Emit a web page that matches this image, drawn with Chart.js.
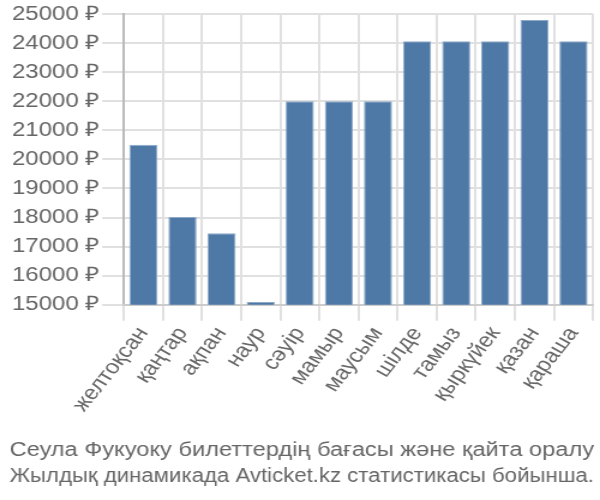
<!DOCTYPE html>
<html>
<head>
<meta charset="utf-8">
<script src="https://cdn.jsdelivr.net/npm/chart.js@4/dist/chart.umd.min.js"></script>
<style>
html,body{margin:0;padding:0;background:#fff;overflow:hidden;}
#wrap{width:600px;height:500px;overflow:hidden;}
#c{transform:scaleX(1.2);transform-origin:0 0;display:block;}
</style>
</head>
<body>
<div id="wrap"><canvas id="c" width="500" height="500" style="width:500px;height:500px"></canvas></div>
<script>
const categories = ["желтоқсан","қаңтар","ақпан","наур","сәуір","мамыр","маусым","шілде","тамыз","қыркүйек","қазан","қараша"];
const prices = [20500, 18020, 17460, 15100, 22000, 22000, 22000, 24060, 24060, 24060, 24790, 24060];
const yTicks = [15000,16000,17000,18000,19000,20000,21000,22000,23000,24000,25000];
const titleLines = ["Сеула Фукуоку билеттердің бағасы және қайта оралу","Жылдық динамикада Avticket.kz статистикасы бойынша."];

Chart.defaults.font.family = "'Liberation Sans', Arial, sans-serif";
new Chart(document.getElementById('c'), {
  type: 'bar',
  data: {
    labels: categories,
    datasets: [{
      data: prices,
      backgroundColor: 'rgb(78,121,167)',
      borderColor: 'rgba(140,170,200,1)',
      borderWidth: 1,
      barPercentage: 0.72,
      categoryPercentage: 1.0
    }]
  },
  options: {
    responsive: false,
    animation: false,
    layout: {padding: {left: 8, right: 5, top: 4, bottom: 0}},
    plugins: {
      legend: {display: false},
      tooltip: {enabled: false},
      title: {
        display: true,
        position: 'bottom',
        text: titleLines,
        color: '#666',
        font: {size: 20, weight: 'normal', lineHeight: 1.32},
        padding: {top: 19, bottom: 10}
      }
    },
    scales: {
      y: {
        min: 15000, max: 25000,
        afterBuildTicks: (s) => { s.ticks = yTicks.map(v => ({value: v})); },
        ticks: {
          color: '#666',
          font: {size: 20},
          padding: 2,
          callback: (v) => v + ' ₽'
        },
        grid: {color: '#e0e0e0', lineWidth: 2, tickLength: 18},
        border: {color: '#bbb', width: 2}
      },
      x: {
        ticks: {color: '#666', font: {size: 20}, maxRotation: 56, minRotation: 56, padding: 2},
        grid: {color: '#e0e0e0', lineWidth: 2, offset: true, tickLength: 16},
        border: {color: '#ccc', width: 2}
      }
    }
  }
});
</script>
</body>
</html>
